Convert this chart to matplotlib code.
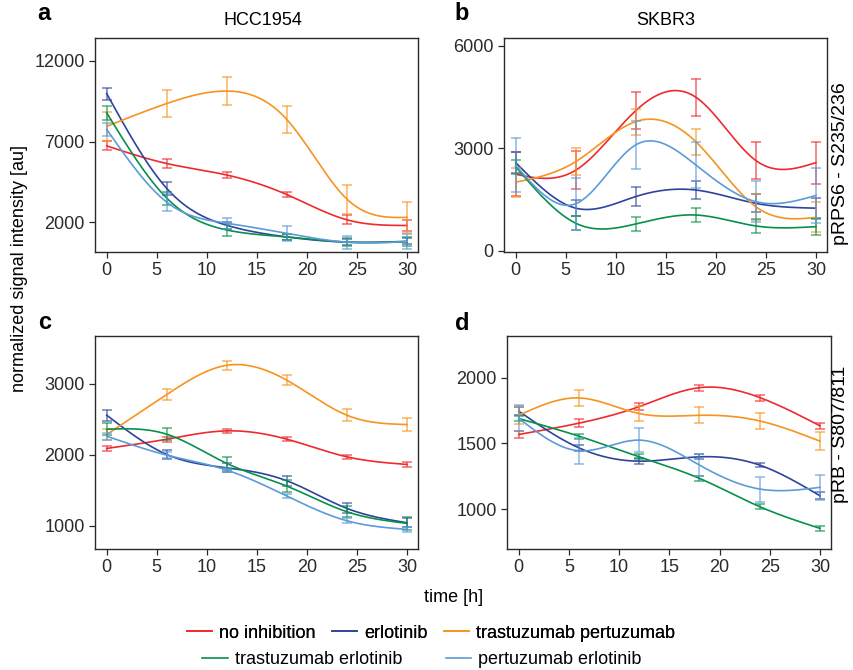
import numpy as np
import matplotlib
matplotlib.use("Agg")
import matplotlib.pyplot as plt
from matplotlib.lines import Line2D

plt.rcParams['font.family'] = ['Liberation Sans', 'DejaVu Sans']

times = [0, 6, 12, 18, 24, 30]
labels = ["no inhibition", "erlotinib", "trastuzumab pertuzumab",
          "trastuzumab erlotinib", "pertuzumab erlotinib"]
colors = ["#ee2a2e", "#2d449c", "#f7931e", "#07904a", "#5b9bd8"]

# order of rows: same as labels
a_mean = [[6730, 5640, 4930, 3720, 2160, 1810],
          [9960, 4100, 1820, 1100, 780, 830],
          [7940, 9350, 10120, 8360, 3440, 2310],
          [8770, 3500, 1530, 1100, 780, 800],
          [7750, 3250, 1950, 1320, 780, 820]]
a_err = [[280, 250, 180, 180, 270, 340],
         [370, 390, 220, 170, 200, 180],
         [900, 860, 860, 850, 895, 975],
         [450, 400, 360, 200, 250, 280],
         [420, 575, 330, 450, 400, 460]]

b_mean = [[2240, 2360, 4100, 4490, 2640, 2580],
          [2580, 1250, 1590, 1780, 1390, 1250],
          [2010, 2610, 3780, 3190, 1290, 980],
          [2460, 810, 790, 1050, 730, 710],
          [2500, 1380, 3100, 2510, 1440, 1620]]
b_err = [[640, 550, 550, 540, 540, 610],
         [300, 230, 265, 260, 260, 300],
         [420, 390, 380, 380, 380, 440],
         [200, 210, 200, 195, 195, 230],
         [790, 760, 700, 680, 600, 790]]

c_mean = [[2087, 2217, 2334, 2217, 1969, 1862],
          [2554, 2002, 1815, 1632, 1244, 1042],
          [2283, 2845, 3256, 3046, 2554, 2423],
          [2357, 2287, 1876, 1557, 1197, 1033],
          [2259, 1993, 1782, 1417, 1070, 949]]
c_err = [[35, 35, 30, 28, 28, 30],
         [80, 65, 65, 72, 70, 60],
         [82, 75, 65, 70, 82, 86],
         [82, 82, 89, 82, 75, 89],
         [47, 40, 30, 30, 35, 30]]

d_mean = [[1567, 1653, 1779, 1923, 1848, 1633],
          [1744, 1465, 1364, 1397, 1334, 1101],
          [1713, 1845, 1726, 1713, 1670, 1516],
          [1688, 1554, 1397, 1233, 1018, 853],
          [1690, 1443, 1524, 1334, 1152, 1165]]
d_err = [[28, 28, 28, 24, 23, 25],
         [30, 25, 22, 20, 18, 25],
         [70, 60, 60, 60, 60, 67],
         [20, 18, 18, 18, 18, 18],
         [100, 97, 92, 85, 95, 97]]


def spline(x, y, xs):
  """natural cubic spline through the points"""
  x = np.asarray(x, float)
  y = np.asarray(y, float)
  n = len(x)
  h = np.diff(x)
  d = np.diff(y) / h
  A = np.zeros((n, n))
  r = np.zeros(n)
  A[0, 0] = A[-1, -1] = 1
  for i in range(1, n - 1):
    A[i, i - 1] = h[i - 1]
    A[i, i] = 2 * (h[i - 1] + h[i])
    A[i, i + 1] = h[i]
    r[i] = 6 * (d[i] - d[i - 1])
  M = np.linalg.solve(A, r)
  idx = np.clip(np.searchsorted(x, xs) - 1, 0, n - 2)
  x0, x1 = x[idx], x[idx + 1]
  hh = x1 - x0
  return (M[idx] * (x1 - xs) ** 3 / (6 * hh) + M[idx + 1] * (xs - x0) ** 3 / (6 * hh)
          + (y[idx] / hh - M[idx] * hh / 6) * (x1 - xs)
          + (y[idx + 1] / hh - M[idx + 1] * hh / 6) * (xs - x0))


def panel(ax, mean, err, ylim, yticks):
  xs = np.linspace(times[0], times[-1], 300)
  for m, e, col in zip(mean, err, colors):
    ax.errorbar(times, m, yerr=e, fmt='none', ecolor=col, alpha=0.6,
                elinewidth=1.3, capsize=3.5, capthick=1.3)
    ax.plot(xs, spline(times, m, xs), color=col, lw=1.2)
  ax.set_xlim(-1.17, 31.1)
  ax.set_ylim(*ylim)
  ax.set_xticks([0, 5, 10, 15, 20, 25, 30])
  ax.set_yticks(yticks)
  ax.tick_params(labelsize=13, length=4, width=0.9, colors='#2a2a2a')
  for s in ax.spines.values():
    s.set_linewidth(1.0)
    s.set_color('#2a2a2a')


W, H = 854, 670
fig = plt.figure(figsize=(W / 100, H / 100), dpi=100)


def box(l, t, r, b):
  return [l / W, 1 - b / H, (r - l) / W, (b - t) / H]


ax_a = fig.add_axes(box(95, 38, 418, 252))
ax_b = fig.add_axes(box(504, 38, 827, 252))
ax_c = fig.add_axes(box(95, 336, 418, 549))
ax_d = fig.add_axes(box(507, 336, 831, 549))

panel(ax_a, a_mean, a_err, (170, 13400), [2000, 7000, 12000])
panel(ax_b, b_mean, b_err, (-30, 6220), [0, 3000, 6000])
panel(ax_c, c_mean, c_err, (673, 3668), [1000, 2000, 3000])
panel(ax_d, d_mean, d_err, (696, 2316), [1000, 1500, 2000])

fig.text(263 / W, 1 - 25 / H, "HCC1954", fontsize=13, ha='center', va='baseline')
fig.text(666 / W, 1 - 25 / H, "SKBR3", fontsize=13, ha='center', va='baseline')

for lt, x, y in [("a", 37, 20), ("b", 454, 20), ("c", 38, 329), ("d", 455, 330)]:
  fig.text(x / W, 1 - y / H, lt, fontsize=17, fontweight='bold', ha='left', va='baseline')

fig.text(20 / W, 1 - 268 / H, "normalized signal intensity [au]", rotation=90,
         fontsize=13, ha='center', va='center')
fig.text(454 / W, 1 - 597 / H, "time [h]", fontsize=13, ha='center', va='center')
fig.text(832 / W, 1 - 164 / H, "pRPS6 - S235/236", rotation=90, fontsize=14,
         ha='left', va='center')
fig.text(832 / W, 1 - 434 / H, "pRB - S807/811", rotation=90, fontsize=14,
         ha='left', va='center')

handles = [Line2D([], [], color=c, lw=1.2) for c in colors]
leg1 = fig.legend(handles[:3], labels[:3], ncol=3, loc='center',
                  bbox_to_anchor=(431 / W, 1 - 633 / H), frameon=False, fontsize=13,
                  handlelength=1.4, handletextpad=0.4, columnspacing=0.9)
fig.add_artist(leg1)
fig.legend(handles[3:], labels[3:], ncol=2, loc='center',
           bbox_to_anchor=(422 / W, 1 - 660 / H), frameon=False, fontsize=13,
           handlelength=1.4, handletextpad=0.4, columnspacing=2.4)

fig.savefig("out.png", dpi=100)
plt.close()
